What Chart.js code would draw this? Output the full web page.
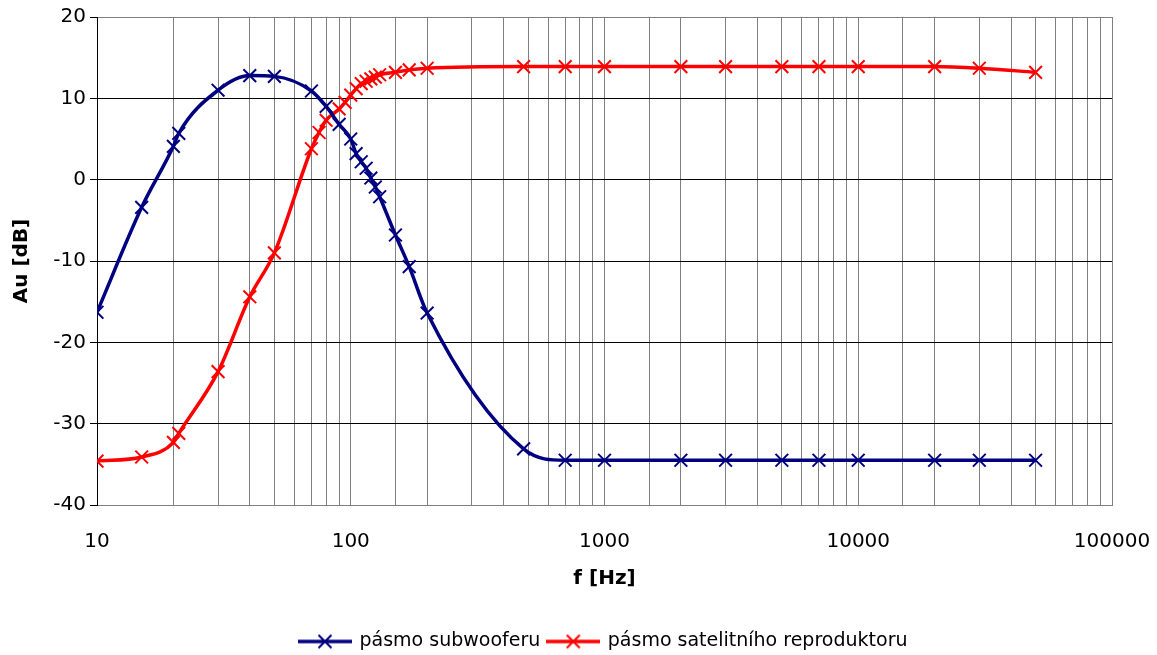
<!DOCTYPE html>
<html>
<head>
<meta charset="utf-8">
<script src="https://cdn.jsdelivr.net/npm/chart.js@4.4.0/dist/chart.umd.min.js"></script>
<style>
  html, body { margin: 0; padding: 0; background: #fff; }
  #wrap { width: 1157px; height: 655px; }
</style>
</head>
<body>
<div id="wrap"><canvas id="chart" width="1157" height="655"></canvas></div>
<script>
// frequencies [Hz] and gain [dB]
const subFreq = [10, 15, 20, 21, 30, 40, 50, 70, 80, 90, 100, 105, 110, 115, 120, 125, 130, 150, 170, 200,
                 480, 700, 1000, 2000, 3000, 5000, 7000, 10000, 20000, 30000, 50000];
const subGain = [-16.3, -3.4, 4.1, 5.7, 11.0, 12.8, 12.7, 10.9, 9.0, 6.8, 5.0, 3.2, 2.2, 1.4, 0.2, -0.9, -2.1, -6.8, -10.7, -16.4,
                 -33.1, -34.5, -34.5, -34.5, -34.5, -34.5, -34.5, -34.5, -34.5, -34.5, -34.5];

const satFreq = [10, 15, 20, 21, 30, 40, 50, 70, 75, 80, 90, 95, 100, 105, 110, 115, 120, 125, 130, 150, 170, 200,
                 480, 700, 1000, 2000, 3000, 5000, 7000, 10000, 20000, 30000, 50000];
const satGain = [-34.6, -34.1, -32.3, -31.2, -23.6, -14.4, -9.0, 3.8, 5.8, 7.3, 8.7, 9.5, 10.4, 11.2, 11.8, 12.1, 12.4, 12.6, 12.9, 13.2, 13.5, 13.7,
                 13.9, 13.9, 13.9, 13.9, 13.9, 13.9, 13.9, 13.9, 13.9, 13.7, 13.2];

const seriesNames = ["pásmo subwooferu", "pásmo satelitního reproduktoru"];
const xTitle = "f [Hz]";
const yTitle = "Au [dB]";

// the original text is rather wide, DejaVu Sans gets closest
const FONT = "'DejaVu Sans', 'Liberation Sans', sans-serif";

function toPoints(xs, ys) {
    return xs.map((x, i) => ({ x: x, y: ys[i] }));
}

// legend symbol: a line with the cross marker in the middle
function legendSymbol(color) {
    const c = document.createElement("canvas");
    c.width = 54;
    c.height = 16;
    const ctx = c.getContext("2d");
    ctx.strokeStyle = color;
    ctx.lineWidth = 3.5;
    ctx.beginPath();
    ctx.moveTo(0, 8);
    ctx.lineTo(54, 8);
    ctx.stroke();
    ctx.lineWidth = 2;
    ctx.beginPath();
    ctx.moveTo(20.5, 1.5); ctx.lineTo(33.5, 14.5);
    ctx.moveTo(33.5, 1.5); ctx.lineTo(20.5, 14.5);
    ctx.stroke();
    return c;
}

const blue = "#000080";
const red = "#ff0000";

function makeSet(label, xs, ys, color) {
    return {
        label: label,
        data: toPoints(xs, ys),
        borderColor: color,
        backgroundColor: color,
        borderWidth: 3.5,
        pointStyle: "crossRot",
        pointRadius: 9,
        pointHoverRadius: 9,
        pointBorderWidth: 2,
        pointBorderColor: color,
        cubicInterpolationMode: "monotone",
        fill: false,
        legendSymbol: legendSymbol(color)
    };
}

// move the legend to where the original has it
const legendPlace = {
    id: "legendPlace",
    afterLayout(chart) {
        const lg = chart.legend;
        if (!lg) return;
        const dx = 300 - lg.options.labels.padding - lg.left;
        const dy = 6;
        lg.left += dx; lg.right += dx;
        lg.top += dy; lg.bottom += dy;
    }
};

new Chart(document.getElementById("chart"), {
    type: "line",
    data: {
        datasets: [
            makeSet(seriesNames[0], subFreq, subGain, blue),
            makeSet(seriesNames[1], satFreq, satGain, red)
        ]
    },
    plugins: [legendPlace],
    options: {
        responsive: false,
        animation: false,
        events: [],
        layout: { padding: { left: 0, right: 45, top: 17, bottom: 0 } },
        plugins: {
            tooltip: { enabled: false },
            legend: {
                position: "bottom",
                align: "start",
                labels: {
                    usePointStyle: true,
                    pointStyleWidth: 50,
                    padding: 8,
                    color: "#000",
                    font: { family: FONT, size: 19 },
                    generateLabels: function (chart) {
                        return chart.data.datasets.map((ds, i) => ({
                            text: ds.label,
                            pointStyle: ds.legendSymbol,
                            fillStyle: ds.borderColor,
                            strokeStyle: ds.borderColor,
                            lineWidth: 0,
                            hidden: false,
                            datasetIndex: i
                        }));
                    }
                }
            }
        },
        scales: {
            x: {
                type: "logarithmic",
                min: 10,
                max: 100000,
                border: { display: true, color: "#808080", width: 1 },
                grid: { color: "#808080", lineWidth: 1, drawTicks: false },
                ticks: {
                    autoSkip: false,
                    maxRotation: 0,
                    padding: 25,
                    color: "#000",
                    font: { family: FONT, size: 20 },
                    callback: function (value) {
                        const e = Math.log10(value);
                        return Math.abs(e - Math.round(e)) < 1e-9 ? String(value) : "";
                    }
                },
                title: {
                    display: true,
                    text: xTitle,
                    color: "#000",
                    font: { family: FONT, size: 20, weight: "bold" },
                    padding: { top: 0, bottom: 27 }
                },
                afterFit: function (scale) {
                    scale.height = 113;
                    scale.paddingLeft = 0;
                    scale.paddingRight = 0;
                }
            },
            y: {
                min: -40,
                max: 20,
                border: { display: true, color: "#000", width: 1 },
                grid: {
                    color: function (ctx) {
                        const v = ctx.tick && ctx.tick.value;
                        return (v === 20 || v === -40) ? "#808080" : "#000";
                    },
                    lineWidth: 1,
                    drawTicks: true,
                    tickLength: 7,
                    tickColor: "#000"
                },
                ticks: {
                    stepSize: 10,
                    padding: 4,
                    color: "#000",
                    font: { family: FONT, size: 20 }
                },
                title: {
                    display: true,
                    text: yTitle,
                    color: "#000",
                    font: { family: FONT, size: 20, weight: "bold" },
                    padding: { top: 10, bottom: 0 }
                },
                afterFit: function (scale) { scale.width = 97; }
            }
        }
    }
});
</script>
</body>
</html>
